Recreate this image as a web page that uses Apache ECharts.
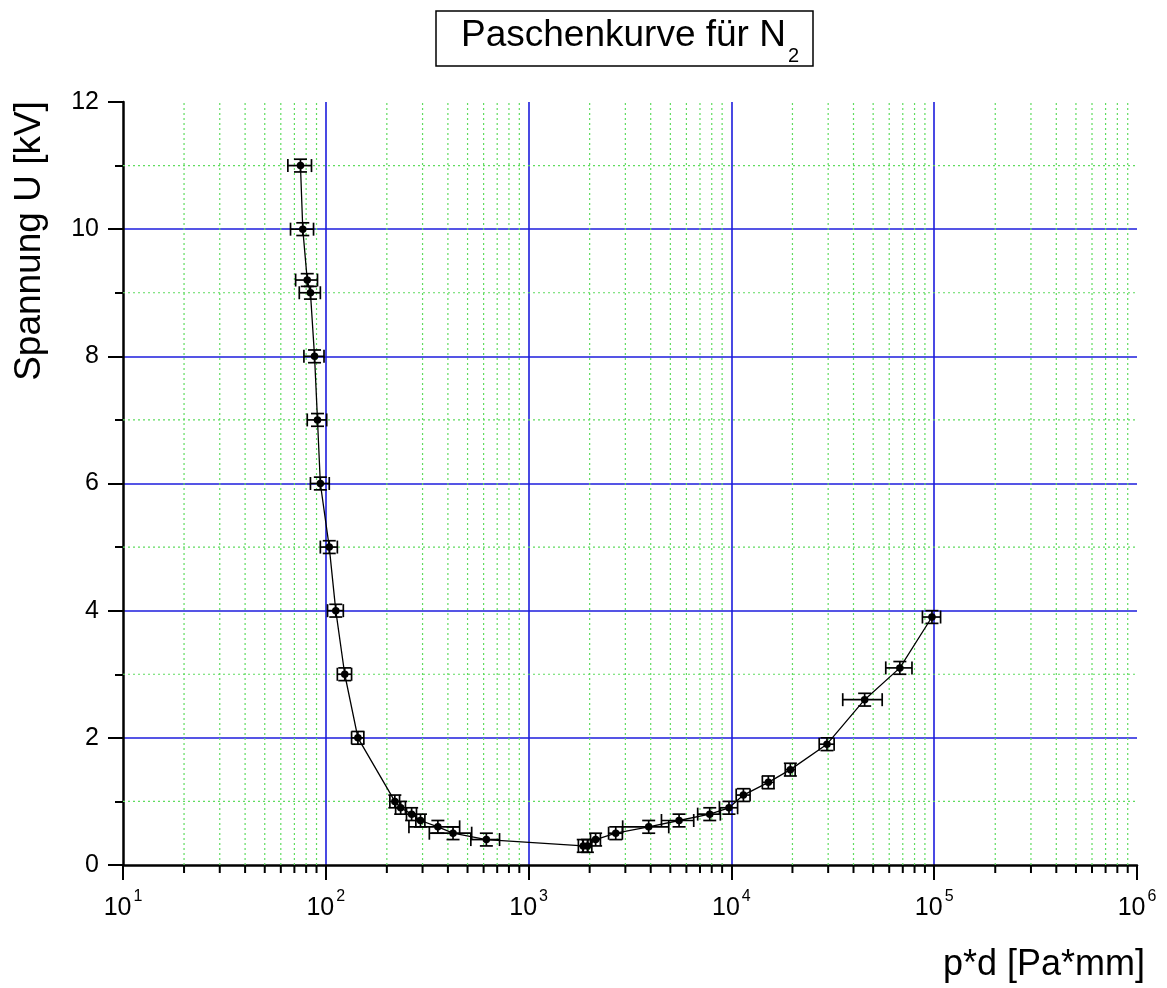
<!DOCTYPE html>
<html>
<head>
<meta charset="utf-8">
<script src="https://cdn.jsdelivr.net/npm/echarts@6/dist/echarts.min.js"></script>
<style>
html,body{margin:0;padding:0;background:#fff;}
#chart{width:1167px;height:988px;}
</style>
</head>
<body>
<div id="chart"></div>
<script>
// ---- data ----
var pd = [75, 77, 81, 84, 88, 91, 94, 104, 112, 124, 144, 219, 234, 265, 293, 357, 424, 619,
          1860, 1950, 2140, 2690, 3910, 5520, 7820, 9730, 11460, 15210, 19530, 29600, 45400, 67700, 97500];
var voltage = [11.0, 10.0, 9.2, 9.0, 8.0, 7.0, 6.0, 5.0, 4.0, 3.0, 2.0, 1.0, 0.9, 0.8, 0.7, 0.6, 0.5, 0.4,
          0.3, 0.3, 0.4, 0.5, 0.6, 0.7, 0.8, 0.9, 1.1, 1.3, 1.5, 1.9, 2.6, 3.1, 3.9];
var pdErr = [10, 10, 10, 10, 10, 10, 10, 10, 10, 10, 10, 12, 13, 15, 15, 100, 100, 100,
          100, 100, 120, 210, 1000, 1000, 1000, 1000, 900, 1000, 1100, 2500, 10000, 10000, 10000];
var voltageErr = [0.1, 0.1, 0.1, 0.1, 0.1, 0.1, 0.1, 0.1, 0.1, 0.1, 0.1, 0.1, 0.1, 0.1, 0.1, 0.1, 0.1, 0.1,
          0.1, 0.1, 0.1, 0.1, 0.1, 0.1, 0.1, 0.1, 0.1, 0.1, 0.1, 0.1, 0.1, 0.1, 0.1];
var decades = [10, 100, 1000, 10000, 100000];
var minorMantissas = [2, 3, 4, 5, 6, 7, 8, 9];
var yMinorValues = [1, 3, 5, 7, 9, 11];
var titleText = 'Paschenkurve für N';
var titleSub = '2';
var yName = 'Spannung U [kV]';
var xName = 'p*d [Pa*mm]';

// ---- build ----
var X_MIN = 10, X_MAX = 1000000, Y_MIN = 0, Y_MAX = 12;
var lineData = pd.map(function (x, i) { return [x, voltage[i]]; });
var errData = pd.map(function (x, i) { return [x, voltage[i], pdErr[i], voltageErr[i]]; });
var minorX = [];
decades.forEach(function (d) { minorMantissas.forEach(function (m) { minorX.push([m * d, 0]); }); });
var minorY = yMinorValues.map(function (v) { return [X_MIN, v]; });

var FONT = '"Liberation Sans", Arial, sans-serif';
var BLUE = '#1c1cdc';
var GREEN = '#5fdc5f';

var chart = echarts.init(document.getElementById('chart'), null, { renderer: 'canvas' });
chart.setOption({
  backgroundColor: '#ffffff',
  animation: false,
  title: {
    text: '{a|' + titleText + '}{s|' + titleSub + '}',
    left: 436, top: 11,
    padding: [6, 14, 0, 25],
    borderColor: '#000', borderWidth: 1.5,
    textStyle: {
      fontWeight: 'normal',
      rich: {
        a: { fontFamily: FONT, fontSize: 37, fontWeight: 'normal', color: '#000', lineHeight: 42, verticalAlign: 'top' },
        s: { fontFamily: FONT, fontSize: 20, fontWeight: 'normal', color: '#000', lineHeight: 20, verticalAlign: 'top', padding: [29, 0, 0, 2] }
      }
    }
  },
  grid: { left: 123, right: 30, top: 102, bottom: 123, containLabel: false },
  xAxis: {
    type: 'log', logBase: 10, min: X_MIN, max: X_MAX,
    axisLine: { show: true, onZero: false, lineStyle: { color: '#000', width: 2.5 } },
    axisTick: { show: true, length: 15, lineStyle: { color: '#000', width: 2 } },
    minorTick: { show: false },
    splitLine: { show: true, showMinLine: false, showMaxLine: false, lineStyle: { color: BLUE, width: 1.6 } },
    axisLabel: {
      margin: 24,
      formatter: function (v) { return '{a|10}{b|' + Math.round(Math.log10(v)) + '}'; },
      rich: {
        a: { fontFamily: FONT, fontSize: 25, color: '#000', lineHeight: 32, verticalAlign: 'bottom' },
        b: { fontFamily: FONT, fontSize: 16, color: '#000', lineHeight: 16, verticalAlign: 'top', padding: [0, 0, 0, 2] }
      }
    }
  },
  yAxis: {
    type: 'value', min: Y_MIN, max: Y_MAX, interval: 2,
    axisLine: { show: true, lineStyle: { color: '#000', width: 2.5 } },
    axisTick: { show: true, length: 15, lineStyle: { color: '#000', width: 2 } },
    minorTick: { show: true, splitNumber: 2, length: 8, lineStyle: { color: '#000', width: 2 } },
    splitLine: { show: true, showMinLine: false, showMaxLine: false, lineStyle: { color: BLUE, width: 1.6 } },
    minorSplitLine: { show: false },
    axisLabel: { margin: 24, fontFamily: FONT, fontSize: 25, color: '#000' }
  },
  graphic: [
    { type: 'text', x: 30, y: 241, rotation: Math.PI / 2,
      style: { text: yName, fontFamily: FONT, fontSize: 37, fill: '#000', align: 'center', verticalAlign: 'middle' } },
    { type: 'text', x: 1145, y: 965,
      style: { text: xName, fontFamily: FONT, fontSize: 36, fill: '#000', align: 'right', verticalAlign: 'middle' } }
  ],
  series: [
    {
      type: 'custom', name: 'minorGridX', data: minorX, clip: false, silent: true, z: 1,
      encode: { x: 0, y: 1 },
      renderItem: function (params, api) {
        var v = api.value(0);
        var p0 = api.coord([v, Y_MIN]);
        var p1 = api.coord([v, Y_MAX]);
        return { type: 'group', children: [
          { type: 'line', shape: { x1: p0[0], y1: p0[1], x2: p1[0], y2: p1[1] },
            style: { stroke: GREEN, lineWidth: 1.2, lineDash: [2, 3] } },
          { type: 'line', shape: { x1: p0[0], y1: p0[1], x2: p0[0], y2: p0[1] + 8 },
            style: { stroke: '#000', lineWidth: 2 } }
        ] };
      }
    },
    {
      type: 'custom', name: 'minorGridY', data: minorY, clip: false, silent: true, z: 1,
      encode: { x: 0, y: 1 },
      renderItem: function (params, api) {
        var v = api.value(1);
        var p0 = api.coord([X_MIN, v]);
        var p1 = api.coord([X_MAX, v]);
        return { type: 'line', shape: { x1: p0[0], y1: p0[1], x2: p1[0], y2: p1[1] },
          style: { stroke: GREEN, lineWidth: 1.2, lineDash: [2, 3] } };
      }
    },
    {
      type: 'custom', name: 'errors', data: errData, z: 3, silent: true,
      encode: { x: 0, y: 1 },
      renderItem: function (params, api) {
        var x = api.value(0), y = api.value(1), ex = api.value(2), ey = api.value(3);
        var l = api.coord([x - ex, y]), r = api.coord([x + ex, y]);
        var b = api.coord([x, y - ey]), t = api.coord([x, y + ey]);
        var c = 6.5, w = 6.5;
        var st = { stroke: '#000', lineWidth: 1.7 };
        function ln(x1, y1, x2, y2) { return { type: 'line', shape: { x1: x1, y1: y1, x2: x2, y2: y2 }, style: st }; }
        return { type: 'group', children: [
          ln(l[0], l[1], r[0], r[1]),
          ln(l[0], l[1] - c, l[0], l[1] + c),
          ln(r[0], r[1] - c, r[0], r[1] + c),
          ln(b[0], b[1], t[0], t[1]),
          ln(b[0] - w, b[1], b[0] + w, b[1]),
          ln(t[0] - w, t[1], t[0] + w, t[1])
        ] };
      }
    },
    {
      type: 'line', name: 'U', data: lineData, z: 4,
      symbol: 'circle', symbolSize: 7.5,
      itemStyle: { color: '#000' },
      lineStyle: { color: '#000', width: 1.3 }
    }
  ]
});
</script>
</body>
</html>
